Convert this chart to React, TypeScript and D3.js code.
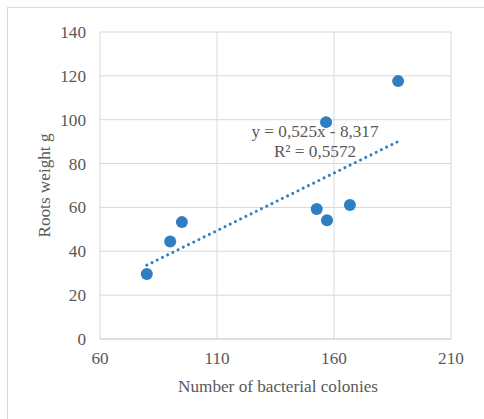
import React, { useRef, useEffect } from "react";
import * as d3 from "d3";

// colonies counted vs. roots weight
const colonies = [80, 90, 95, 152.6, 157, 156.6, 166.8, 187.4];
const rootsWeight = [29.6, 44.5, 53.3, 59.3, 54.1, 98.9, 61.1, 117.6];
const xTicks = [60, 110, 160, 210];
const yTicks = [0, 20, 40, 60, 80, 100, 120, 140];
// trendline from the equation shown on the chart
const slope = 0.525;
const intercept = -8.317;
const equationLines = ["y = 0,525x - 8,317", "R² = 0,5572"];

const W = 484;
const H = 419;

function ScatterChart() {
    const ref = useRef<SVGSVGElement>(null);

    useEffect(() => {
        const svg = d3.select(ref.current).html("");
        const font = "'Liberation Serif', 'Times New Roman', serif";
        const textColor = "#595959";
        const fs = 17.2;

        const x = d3.scaleLinear().domain([60, 210]).range([100, 451]);
        const y = d3.scaleLinear().domain([0, 140]).range([339, 32]);

        // chart frame
        svg.append("rect")
            .attr("x", 7.5).attr("y", 7.5)
            .attr("width", 600).attr("height", 600)
            .attr("fill", "white")
            .attr("stroke", "#d9d9d9");

        // grid
        svg.append("g").selectAll("line").data(yTicks.slice(1)).join("line")
            .attr("x1", x(60)).attr("x2", x(210))
            .attr("y1", (d) => y(d)).attr("y2", (d) => y(d))
            .attr("stroke", "#d9d9d9").attr("stroke-width", 1);
        svg.append("g").selectAll("line").data(xTicks).join("line")
            .attr("x1", (d) => x(d)).attr("x2", (d) => x(d))
            .attr("y1", y(0)).attr("y2", y(140))
            .attr("stroke", "#d9d9d9").attr("stroke-width", 1);
        // x axis line
        svg.append("line")
            .attr("x1", x(60)).attr("x2", x(210))
            .attr("y1", y(0)).attr("y2", y(0))
            .attr("stroke", "#bfbfbf");

        // tick labels
        svg.append("g").selectAll("text").data(yTicks).join("text")
            .attr("x", 86).attr("y", (d) => y(d))
            .attr("dy", "0.35em")
            .attr("text-anchor", "end")
            .attr("font-family", font).attr("font-size", fs)
            .attr("fill", textColor)
            .text((d) => d);
        svg.append("g").selectAll("text").data(xTicks).join("text")
            .attr("x", (d) => x(d)).attr("y", 364)
            .attr("text-anchor", "middle")
            .attr("font-family", font).attr("font-size", fs)
            .attr("fill", textColor)
            .text((d) => d);

        // axis titles
        svg.append("text")
            .attr("x", 278).attr("y", 392)
            .attr("text-anchor", "middle")
            .attr("font-family", font).attr("font-size", fs)
            .attr("fill", textColor)
            .text("Number of bacterial colonies");
        svg.append("text")
            .attr("transform", `translate(50, ${(y(0) + y(140)) / 2}) rotate(-90)`)
            .attr("text-anchor", "middle")
            .attr("font-family", font).attr("font-size", fs)
            .attr("fill", textColor)
            .text("Roots weight g");

        // trendline
        const xMin = d3.min(colonies) as number;
        const xMax = d3.max(colonies) as number;
        svg.append("line")
            .attr("x1", x(xMin)).attr("y1", y(slope * xMin + intercept))
            .attr("x2", x(xMax)).attr("y2", y(slope * xMax + intercept))
            .attr("stroke", "#2E7EC2")
            .attr("stroke-width", 3)
            .attr("stroke-linecap", "round")
            .attr("stroke-dasharray", "0.01 5.8");

        // points
        svg.append("g").selectAll("circle").data(colonies).join("circle")
            .attr("cx", (d) => x(d))
            .attr("cy", (d, i) => y(rootsWeight[i]))
            .attr("r", 6)
            .attr("fill", "#2E7EC2");

        // equation label
        svg.append("g").selectAll("text").data(equationLines).join("text")
            .attr("x", 315).attr("y", (d, i) => 137 + i * 20)
            .attr("text-anchor", "middle")
            .attr("font-family", font).attr("font-size", fs)
            .attr("fill", textColor)
            .text((d) => d);
    }, []);

    return (
        <svg
            ref={ref}
            width={W}
            height={H}
            style={{ position: "absolute", left: 0, top: 0, background: "white" }}
        />
    );
}

export default function App() {
    return <ScatterChart />;
}
